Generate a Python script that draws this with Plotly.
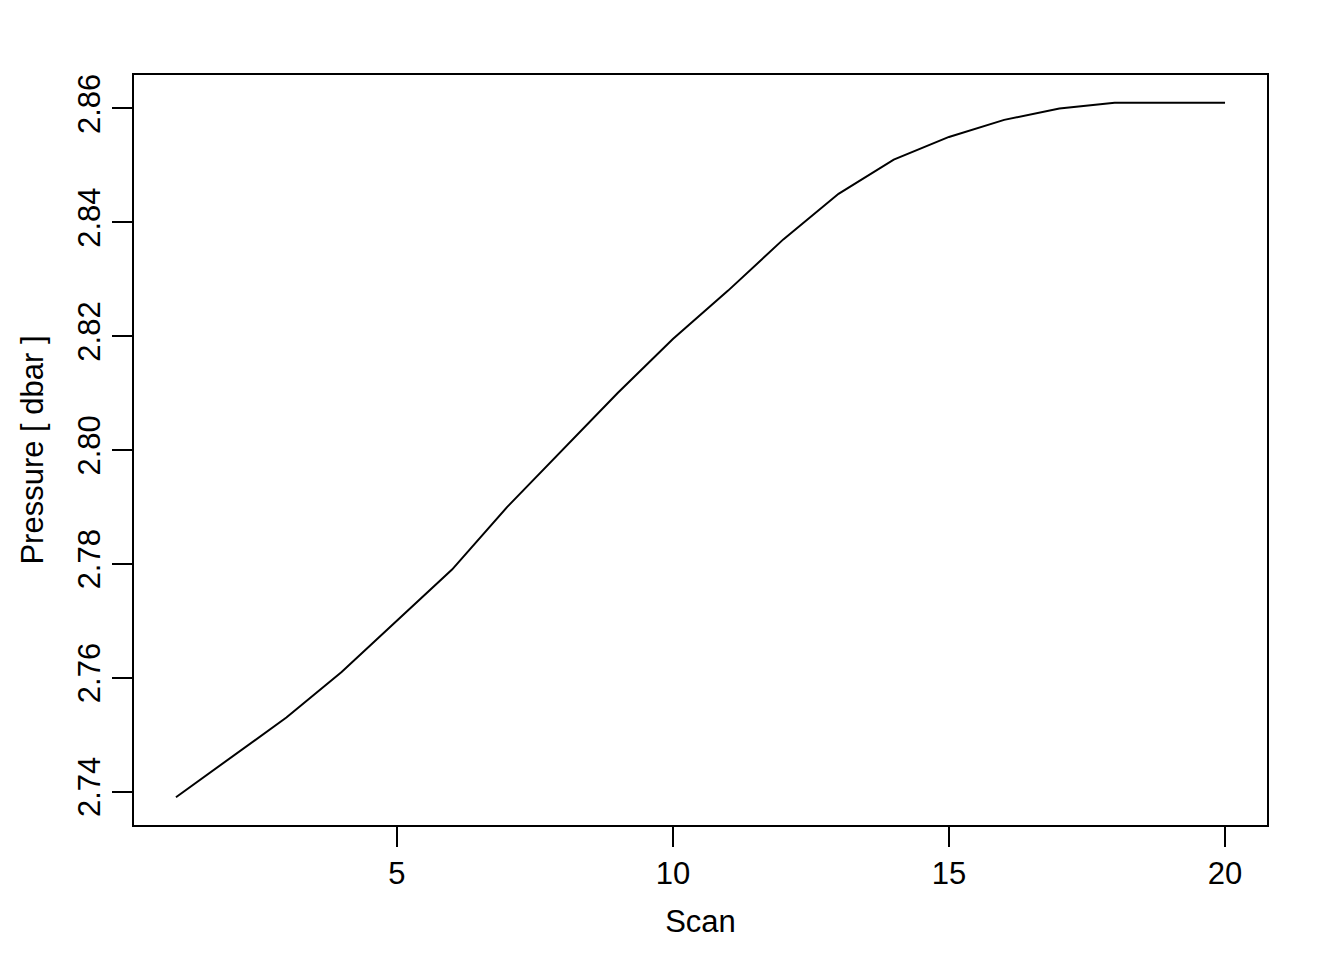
import plotly.graph_objects as go

scan = list(range(1, 21))
pressure = [2.739, 2.746, 2.753, 2.761, 2.770, 2.779, 2.790, 2.800, 2.810, 2.8195,
            2.828, 2.837, 2.845, 2.851, 2.855, 2.858, 2.860, 2.861, 2.861, 2.861]
x_ticks = [5, 10, 15, 20]
y_ticks = [2.74, 2.76, 2.78, 2.80, 2.82, 2.84, 2.86]
y_ticklabels = ["2.74", "2.76", "2.78", "2.80", "2.82", "2.84", "2.86"]

font = dict(family="Liberation Sans, Arial, Helvetica, sans-serif", size=31, color="black")

fig = go.Figure()
fig.add_trace(go.Scatter(x=scan, y=pressure, mode="lines",
                         line=dict(color="black", width=2), showlegend=False))

xpad = (max(scan) - min(scan)) * 0.04
ypad = (max(pressure) - min(pressure)) * 0.04

fig.update_layout(
    width=1344, height=960,
    margin=dict(l=126, r=85, t=67, b=143, autoexpand=False),
    paper_bgcolor="white", plot_bgcolor="white",
    font=font,
    xaxis=dict(range=[min(scan) - xpad, max(scan) + xpad], tickvals=x_ticks,
               ticks="outside", ticklen=20, tickwidth=2, tickcolor="black",
               showline=True, linecolor="black", linewidth=2, mirror=True,
               showgrid=False, zeroline=False, automargin=False,
               title=dict(text="Scan", standoff=20, font=font), tickfont=font),
    yaxis=dict(range=[min(pressure) - ypad, max(pressure) + ypad], tickvals=y_ticks,
               ticktext=y_ticklabels, tickangle=-90,
               ticks="outside", ticklen=20, tickwidth=2, tickcolor="black",
               showline=True, linecolor="black", linewidth=2, mirror=True,
               showgrid=False, zeroline=False, automargin=False,
               title=dict(text="Pressure [ dbar ]", standoff=19, font=font), tickfont=font),
)

fig.write_html("out.html")
